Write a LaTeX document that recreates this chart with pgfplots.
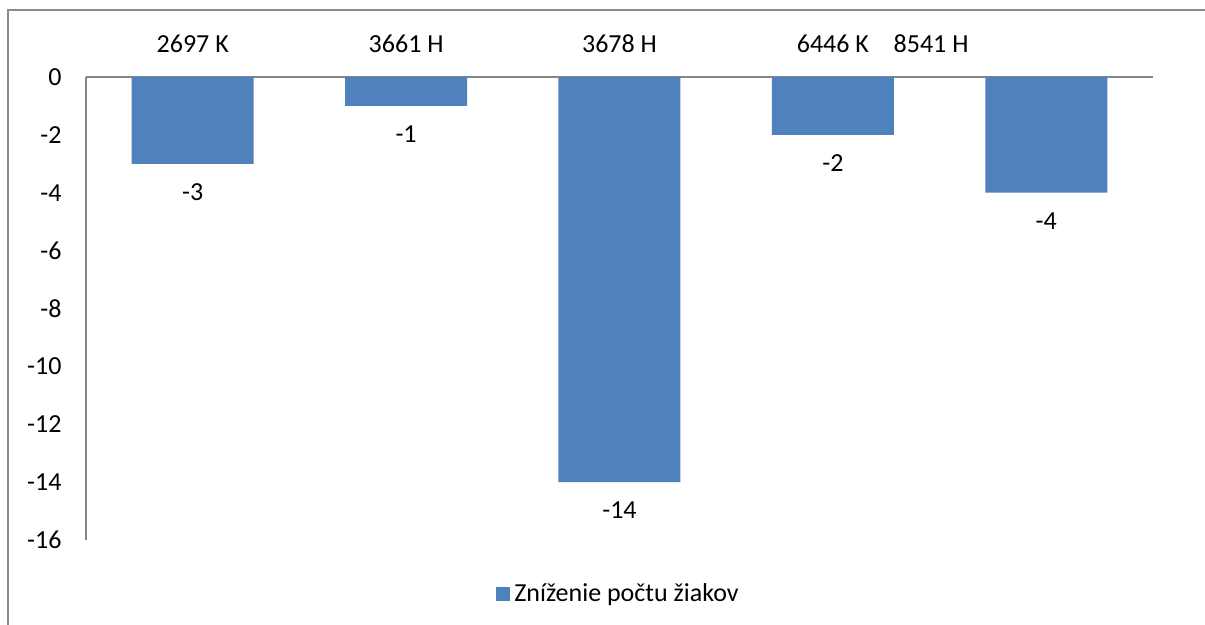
\documentclass[border=0pt]{standalone}
\usepackage{pgfplots}
\pgfplotsset{compat=1.18}
\usepackage{fontspec}
\setmainfont{Carlito}
\definecolor{barblue}{HTML}{4F81BD}
\definecolor{axisgray}{HTML}{868686}
\definecolor{framegray}{HTML}{8A8A8A}
\begin{document}
\begin{tikzpicture}
\useasboundingbox (0,0) rectangle (602.5pt,312.5pt);
\fill[white] (0,0) rectangle (602.5pt,312.5pt);
\draw[framegray, line width=1pt] (4pt,-10pt) -- (4pt,307.5pt) -- (620pt,307.5pt);
\begin{axis}[
  at={(43pt,42.5pt)}, anchor=south west,
  scale only axis, width=533.5pt, height=231.5pt,
  ybar, bar width=61pt,
  xmin=-0.5, xmax=4.5, ymin=-16, ymax=0,
  ytick={-16,-14,...,0},
  xtick={0,1,2,3,3.46},
  xticklabels={2697 K,3661 H,3678 H,6446 K,8541 H},
  axis x line=top, axis y line=left,
  axis line style={-, draw=axisgray, line width=0.75pt},
  xticklabel pos=upper,
  major tick length=0pt,
  tick style={draw=none},
  font=\fontsize{13pt}{15pt}\selectfont,
  ticklabel style={font=\fontsize{13pt}{15pt}\selectfont},
  xticklabel style={anchor=base, yshift=12.35pt},
  yticklabel style={anchor=east, xshift=-8.7pt},
  /pgf/number format/assume math mode=true,
  nodes near coords,
  every node near coord/.append style={anchor=center, yshift=-14.25pt, font=\fontsize{13pt}{15pt}\selectfont, text=black},
  legend style={at={(0.5,-0.1166)}, anchor=center, draw=none, fill=none, font=\fontsize{13pt}{15pt}\selectfont},
  clip=false,
]
\addplot[fill=barblue, draw=none,
  legend image code/.code={\fill[barblue] (0pt,-3.5pt) rectangle (7pt,3.5pt);}]
  coordinates {(0,-3) (1,-1) (2,-14) (3,-2) (4,-4)};
\addlegendentry{Zníženie počtu žiakov}
\end{axis}
\end{tikzpicture}
\end{document}
